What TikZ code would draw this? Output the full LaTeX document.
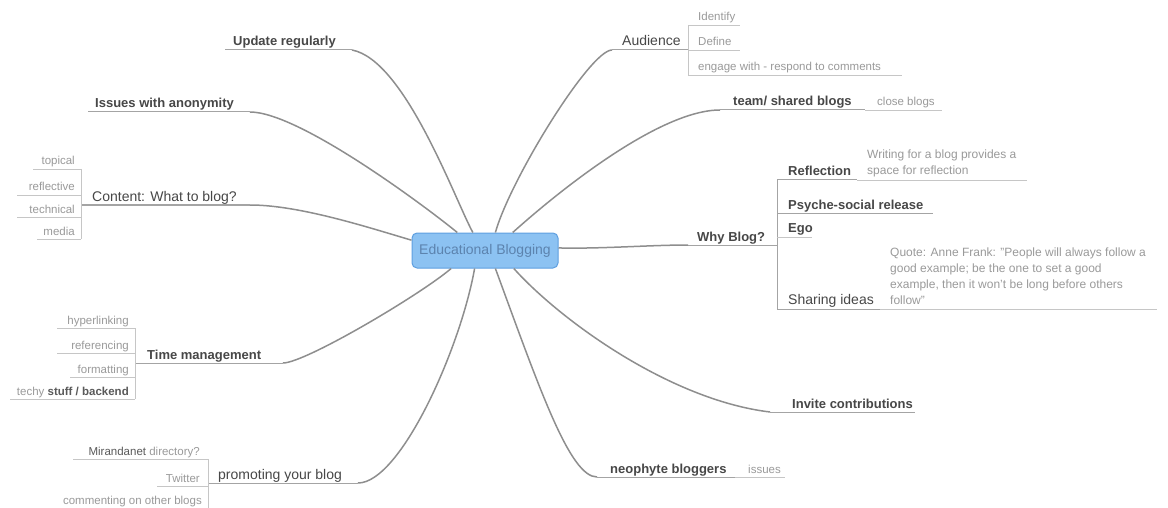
\documentclass[tikz,border=0pt]{standalone}
\usepackage{fontspec}
\setmainfont{Liberation Sans}
\definecolor{maintxt}{HTML}{474747}
\definecolor{subtxt}{HTML}{9A9A9A}
\definecolor{darksub}{HTML}{5A5A5A}
\definecolor{branchc}{HTML}{8E8E8E}
\definecolor{ulinec}{HTML}{A4A4A4}
\definecolor{sublinec}{HTML}{C6C6C6}
\definecolor{ctrfill}{HTML}{8CC2F2}
\definecolor{ctrdraw}{HTML}{5E9FE0}
\definecolor{ctrtxt}{HTML}{5C83AE}
\begin{document}
\begin{tikzpicture}[x=1pt,y=-1pt,
  mb/.style={font=\fontsize{13}{15}\selectfont\bfseries, text=maintxt, inner sep=0pt, anchor=base west},
  mr/.style={font=\fontsize{14}{16}\selectfont, text=maintxt, inner sep=0pt, anchor=base west},
  sub/.style={font=\fontsize{11.5}{13}\selectfont, text=subtxt, inner sep=0pt, anchor=base west},
  subr/.style={sub, anchor=base east},
  notetxt/.style={font=\fontsize{12}{16}\selectfont, text=subtxt, inner sep=0pt, anchor=base west, align=left},
  branch/.style={draw=branchc, line width=1.5pt},
  uline/.style={draw=ulinec, line width=1pt},
  subline/.style={draw=sublinec, line width=0.8pt}]
\useasboundingbox (0,0) rectangle (1168,508);
\fill[white] (0,0) rectangle (1168,508);

% centre
\node[draw=ctrdraw, fill=ctrfill, rounded corners=5pt, minimum width=146pt, minimum height=35pt,
      inner sep=0pt, line width=1pt, text=ctrtxt, font=\fontsize{14}{16}\selectfont] (ctr) at (485,250.5) {Educational Blogging};

% ---------- left side ----------
% Update regularly
\node[mb] (upd) at (233,46) {Update regularly};
\coordinate (updR) at (352,50);
\draw[uline] (225,50) -- (updR);
\draw[branch] (ctr.124) .. controls (455,200) and (405,60) .. (updR);

% Issues with anonymity
\node[mb] (iss) at (95,108) {Issues with anonymity};
\coordinate (issR) at (250,112);
\draw[uline] (88,112) -- (issR);
\draw[branch] (ctr.147) .. controls (430,210) and (300,112) .. (issR);

% Content
\node[mr] (con) at (92,201) {Content: What to blog?};
\coordinate (conR) at (250,205);
\draw[uline] (81,205) -- (conR);
\draw[branch] (ctr.172) .. controls (370,228) and (300,205) .. (conR);
\node[subr] (c1) at (75,165) {topical};
\node[subr] (c2) at (75,191) {reflective};
\node[subr] (c3) at (75,213) {technical};
\node[subr] (c4) at (75,235) {media};
\draw[subline] (33,169) -- (81,169);
\draw[subline] (17,195) -- (81,195);
\draw[subline] (17,217) -- (81,217);
\draw[subline] (37,239) -- (81,239);
\draw[subline] (81,169) -- (81,239);

% Time management
\node[mb] (tim) at (147,359) {Time management};
\coordinate (timR) at (283,363);
\draw[uline] (135,363) -- (timR);
\draw[branch] (ctr.208) .. controls (420,295) and (305,363) .. (timR);
\node[subr] (t1) at (129,324) {hyperlinking};
\node[subr] (t2) at (129,349) {referencing};
\node[subr] (t3) at (129,373) {formatting};
\node[subr] (t4) at (129,395) {techy {\color{darksub}\bfseries stuff / backend}};
\draw[subline] (57,328) -- (135,328);
\draw[subline] (57,353) -- (135,353);
\draw[subline] (70,377) -- (135,377);
\draw[subline] (10,399) -- (135,399);
\draw[subline] (135,328) -- (135,399);

% promoting your blog
\node[mr] (pro) at (218,479) {promoting your blog};
\coordinate (proR) at (358,483);
\draw[uline] (208,483) -- (proR);
\draw[branch] (ctr.240) .. controls (460,350) and (400,483) .. (proR);
\node[subr] (p1) at (200,455) {{\color{darksub}Mirandanet} directory?};
\node[subr] (p2) at (200,482) {Twitter};
\node[subr] (p3) at (202,504) {commenting on other blogs};
\draw[subline] (73,459) -- (208,459);
\draw[subline] (157,486) -- (208,486);
\draw[subline] (48,509) -- (208,509);
\draw[subline] (208,459) -- (208,509);

% ---------- right side ----------
% Audience
\node[mr] (aud) at (622,46) {Audience};
\coordinate (audL) at (612,50);
\draw[uline] (audL) -- (688,50);
\draw[branch] (ctr.60) .. controls (510,180) and (590,50) .. (audL);
\node[sub] (a1) at (698,21) {Identify};
\node[sub] (a2) at (698,46) {Define};
\node[sub] (a3) at (698,71) {engage with - respond to comments};
\draw[subline] (688,25) -- (740,25);
\draw[subline] (688,50) -- (740,50);
\draw[subline] (688,75) -- (902,75);
\draw[subline] (688,25) -- (688,75);

% team/shared blogs
\node[mb] (tea) at (733,106) {team/ shared blogs};
\coordinate (teaL) at (720,110);
\draw[uline] (teaL) -- (865,110);
\draw[branch] (ctr.33) .. controls (560,190) and (660,110) .. (teaL);
\node[sub] (clo) at (877,106) {close blogs};
\draw[subline] (865,110) -- (942,110);

% Why Blog?
\node[mb] (why) at (697,241) {Why Blog?};
\coordinate (whyL) at (688,245);
\draw[uline] (whyL) -- (777,245);
\draw[branch] (ctr.2) .. controls (600,249) and (650,245) .. (whyL);
\draw[uline] (777,180) -- (777,309);
\node[mb] (w1) at (788,176) {Reflection};
\draw[uline] (777,180) -- (857,180);
\node[notetxt] (w1n) at (867,175) {Writing for a blog provides a\\space for reflection};
\draw[subline] (857,180) -- (1027,180);
\node[mb] (w2) at (788,209) {Psyche-social release};
\draw[uline] (777,213) -- (933,213);
\node[mb] (w3) at (788,232) {Ego};
\draw[subline] (777,237) -- (812,237);
\node[mr] (w4) at (788,304) {Sharing ideas};
\draw[uline] (777,309) -- (880,309);
\node[notetxt] (w4n) at (890,304) {Quote: Anne Frank: "People will always follow a\\good example; be the one to set a good\\example, then it won't be long before others\\follow"};
\draw[subline] (880,309) -- (1157,309);

% Invite contributions
\node[mb] (inv) at (792,408) {Invite contributions};
\coordinate (invL) at (770,412);
\draw[uline] (invL) -- (915,412);
\draw[branch] (ctr.328) .. controls (560,320) and (670,400) .. (invL);

% neophyte bloggers
\node[mb] (neo) at (610,473) {neophyte bloggers};
\coordinate (neoL) at (597,477);
\draw[uline] (neoL) -- (735,477);
\draw[branch] (ctr.300) .. controls (540,390) and (570,477) .. (neoL);
\node[sub] (nis) at (748,473) {issues};
\draw[subline] (735,477) -- (785,477);
\end{tikzpicture}
\end{document}
